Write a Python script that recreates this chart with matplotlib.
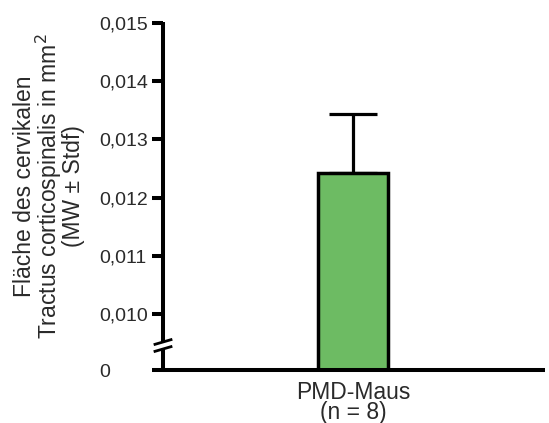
import matplotlib
matplotlib.use("Agg")
import matplotlib.pyplot as plt

plt.rcParams['font.family'] = ['Liberation Sans', 'DejaVu Sans']

categories = ["PMD-Maus\n(n = 8)"]
means = [0.01243]
stds = [0.00100]
ytick_values = [0.010, 0.011, 0.012, 0.013, 0.014, 0.015]
ytick_labels = ["0,010", "0,011", "0,012", "0,013", "0,014", "0,015"]
zero_label = "0"

W, H = 549, 423
fig = plt.figure(figsize=(W / 100, H / 100), dpi=100)
ax_left, ax_right = 163 / W, 545 / W
ax_bottom, ax_top = 1 - 370 / H, 1 - 23 / H
ax = fig.add_axes([ax_left, ax_bottom, ax_right - ax_left, ax_top - ax_bottom])
span_px = 545 - 163

# broken axis: position of "0" below 0.010
y_zero = 0.010 - (370 - 314) / 58.2 * 0.001
ax.set_ylim(y_zero, 0.015)
ax.set_xlim(0, 1)

lw_axis = 2.9
lw_bar = 2.5
lw_err = 2.3
x_pos = [0.497]
bar_w = 0.183
for xp, m, s in zip(x_pos, means, stds):
    ax.bar(xp, m - y_zero, bottom=y_zero, width=bar_w, color="#6dbb63",
           edgecolor="black", linewidth=lw_bar, zorder=3)
    ax.errorbar(xp, m, yerr=[[0], [s]], fmt="none", ecolor="black",
                elinewidth=lw_err, capsize=17, capthick=lw_err, zorder=2)

for sp in ax.spines.values():
    sp.set_visible(False)

text_color = "#2a2a2a"
ax.set_yticks([y_zero] + ytick_values)
ax.set_yticklabels([zero_label] + ytick_labels, fontsize=14, color=text_color,
                   ha="left")
ax.tick_params(axis="y", length=0, pad=46)
ax.set_xticks(x_pos)
ax.set_xticklabels(categories, fontsize=16.5, linespacing=0.85, color=text_color)
ax.tick_params(axis="x", length=0, pad=8)

# tick marks for y (outward)
for v in ytick_values:
    ax.plot([-11 / span_px, 0], [v, v], color="black", lw=lw_axis, clip_on=False,
            solid_capstyle="butt", zorder=5)

# y axis line with break
brk_hi = 0.010 - (342 - 314) / 58.2 * 0.001
brk_lo = 0.010 - (349 - 314) / 58.2 * 0.001
ax.plot([0, 0], [brk_hi, 0.015 + 0.00002], color="black", lw=lw_axis,
        clip_on=False, solid_capstyle="butt", zorder=5)
ax.plot([0, 0], [y_zero, brk_lo], color="black", lw=lw_axis, clip_on=False,
        solid_capstyle="butt", zorder=5)
dy = 0.00004
for yb in (brk_hi, brk_lo):
    ax.plot([-8 / span_px, 8 / span_px], [yb - dy, yb + dy], color="black",
            lw=2.0, clip_on=False, zorder=6)

# x axis line extending to the left
ax.plot([-11 / span_px, 1], [y_zero, y_zero], color="black", lw=lw_axis,
        clip_on=False, solid_capstyle="butt", zorder=5)

fig.text(49 / W, 1 - 186 / H,
         "Fläche des cervikalen\nTractus corticospinalis in mm$^2$\n(MW ± Stdf)",
         rotation=90, ha="center", va="center", fontsize=16.5, linespacing=0.9,
         color=text_color)

fig.savefig("out.png", dpi=100)
